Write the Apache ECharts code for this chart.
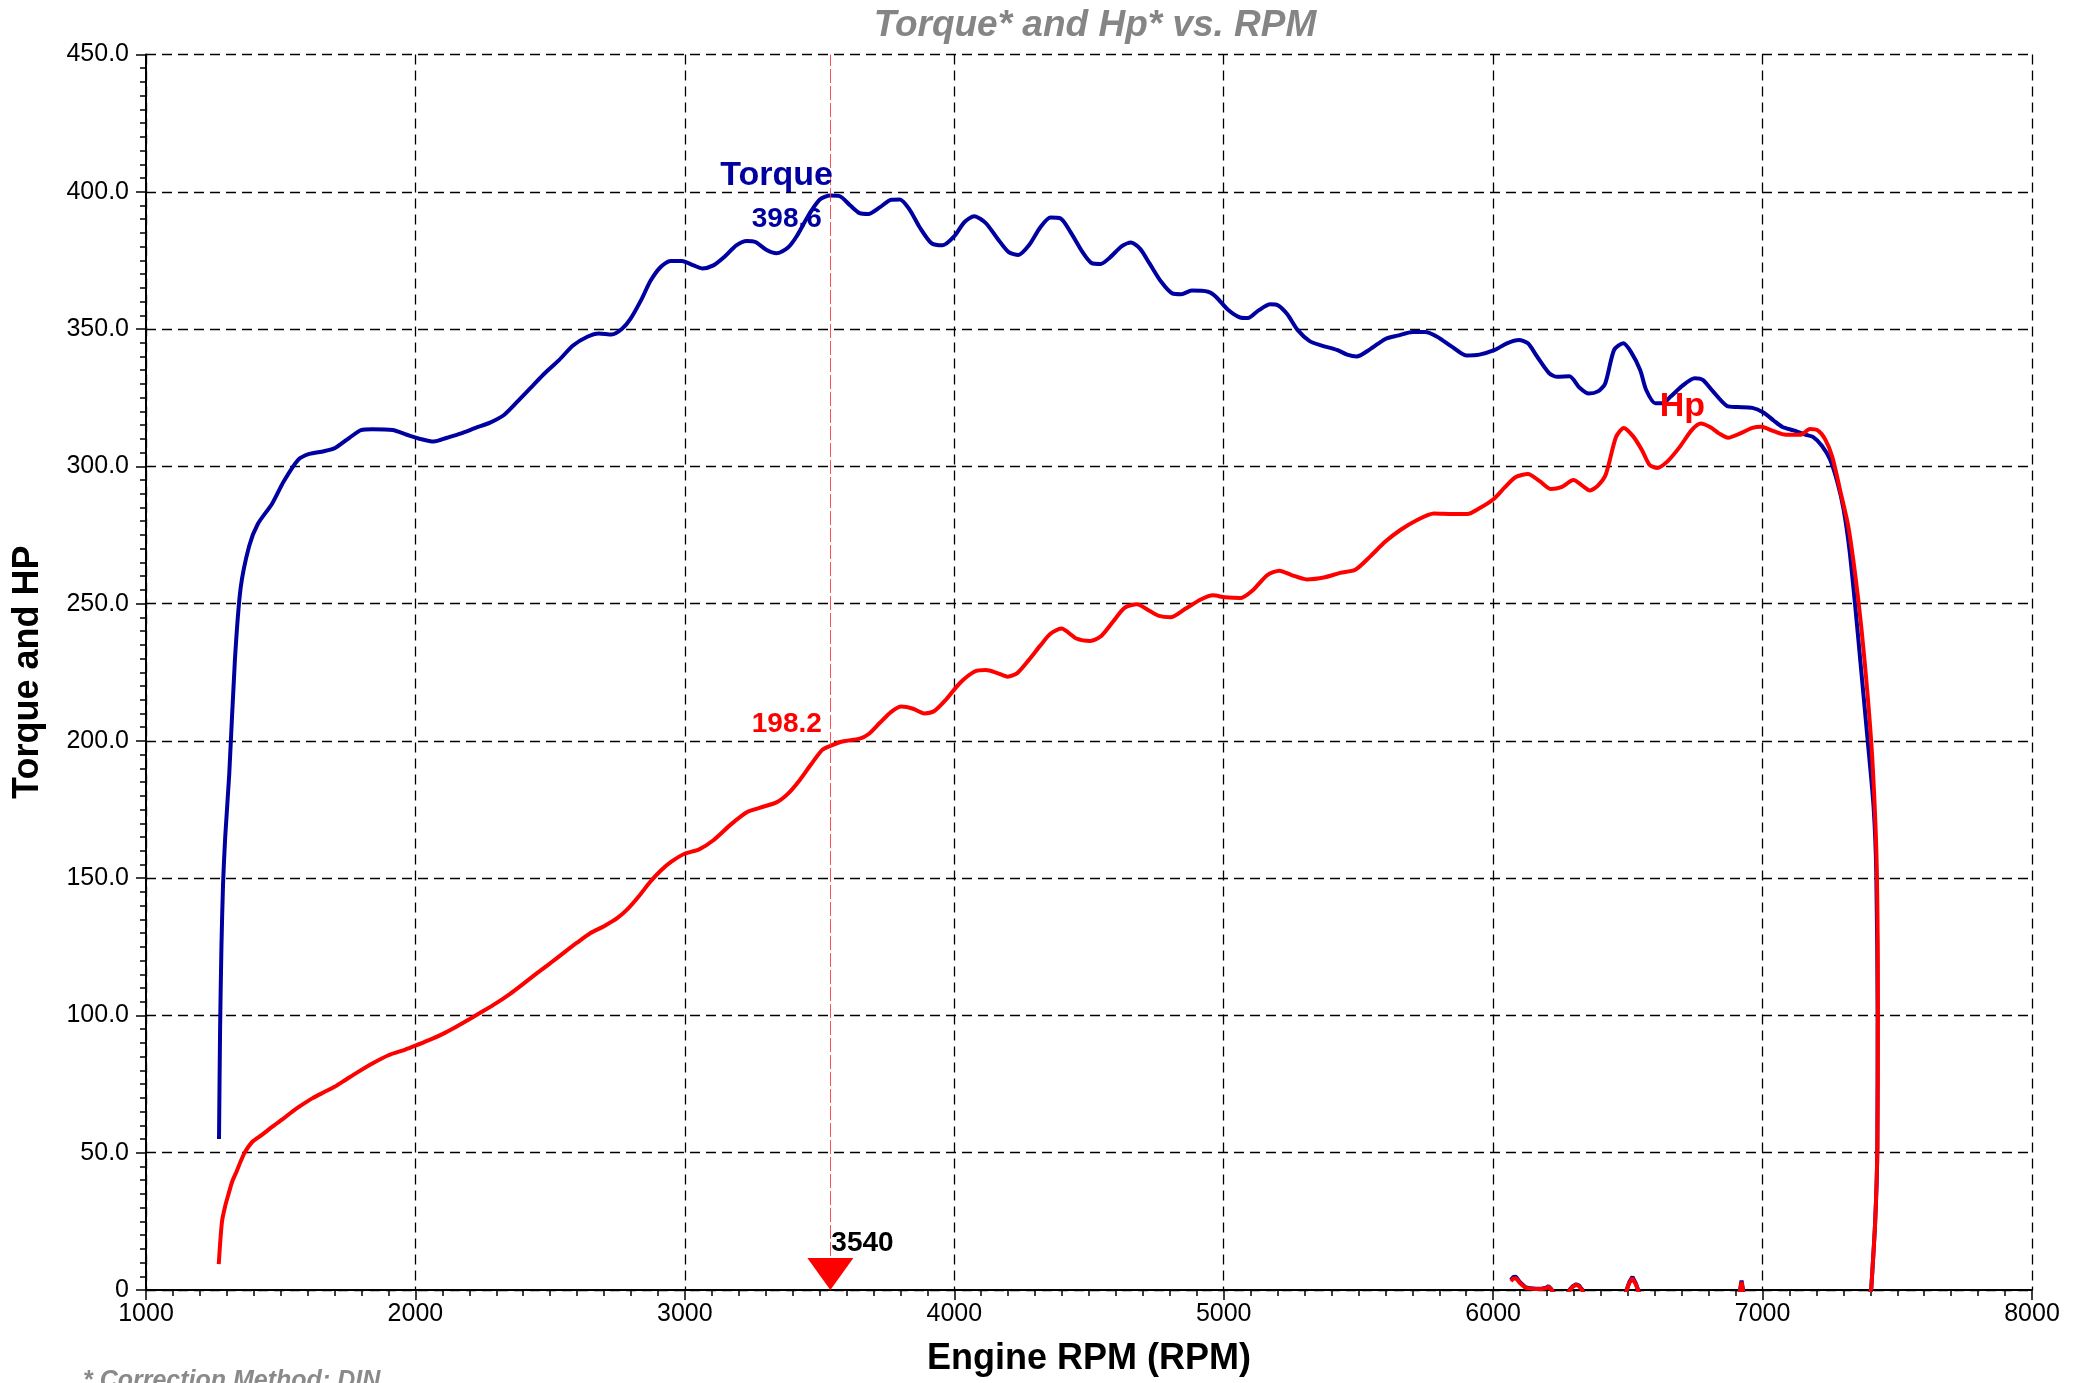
<!DOCTYPE html>
<html>
<head>
<meta charset="utf-8">
<script src="https://cdn.jsdelivr.net/npm/echarts@6/dist/echarts.min.js"></script>
<style>
html,body{margin:0;padding:0;background:#fff;}
#chart{width:2085px;height:1383px;}
</style>
</head>
<body>
<div id="chart"></div>
<script>
// ---- data ----
const torqueRpm = [1271,1275,1280,1286,1294,1309,1330,1351,1383,1415,1468,1511,1564,1606,1660,1702,1755,1798,1840,1915,1968,2021,2068,2117,2170,2223,2277,2330,2383,2436,2479,2532,2585,2638,2681,2728,2766,2798,2840,2872,2911,2947,2989,3032,3064,3106,3149,3191,3230,3262,3302,3340,3383,3415,3457,3500,3540,3574,3613,3649,3681,3723,3766,3798,3834,3872,3915,3957,4000,4038,4074,4117,4160,4202,4238,4277,4319,4357,4394,4431,4476,4510,4543,4577,4622,4656,4690,4724,4768,4809,4843,4881,4942,4971,5016,5061,5090,5128,5173,5202,5236,5274,5319,5364,5420,5458,5493,5544,5600,5645,5702,5747,5792,5848,5900,5949,6006,6051,6096,6129,6163,6209,6238,6283,6321,6355,6389,6416,6449,6483,6512,6546,6568,6602,6629,6658,6703,6748,6778,6816,6868,6906,6962,7003,7041,7074,7115,7160,7187,7220,7250,7277,7300,7322,7344,7367,7390,7412,7422,7427,7426,7418,7403];
const torqueVal = [55,95,125,148,165,188,229.5,255.5,271,279,286.4,294.5,302.3,304.5,305.5,306.7,310.4,313.2,313.5,313.2,311.5,309.9,309,310.4,312,314,315.9,318.8,324,329.4,333.8,338.6,344,347.2,348.4,348,350,353.7,361,367.5,372.7,374.8,374.8,373.2,372.1,373.2,376.5,380.5,382.1,381.7,378.9,377.6,379.7,383.8,391.1,397.1,398.6,398.4,395.1,392.2,391.9,394.3,397.1,397.2,393.5,387,381.3,380.5,383.8,389,391.1,388.6,383,378,377,380.5,387,390.6,390.3,385.4,378,374,373.7,376,380.2,381.5,379.2,374,367.2,363,362.7,364,363.6,361.8,357,354.2,354,356.7,359,358.6,355.4,349.7,345.6,344,342.4,340.7,340,342.7,346.4,347.6,348.9,348.9,347.2,343.5,340.4,340.7,342.4,344.8,346,344.8,340,333.8,332.6,332.8,328.6,326.5,327.3,330.2,342.4,344.8,341.6,335,327.8,323,323,325.3,329.4,332.1,331.5,327.3,322,321.6,321.3,319.6,316.7,314.3,313.1,311.5,310.7,307.5,302.6,294.5,284.7,270,249,224.7,200.3,176,152,100,52,25,0];

const hpRpm = [1270,1282,1295,1307,1320,1336,1350,1366,1395,1430,1469,1511,1543,1580,1617,1660,1700,1740,1780,1840,1900,1960,2000,2050,2100,2150,2200,2250,2300,2350,2400,2450,2500,2550,2600,2650,2700,2750,2790,2830,2870,2911,2950,2999,3053,3106,3170,3230,3277,3340,3383,3426,3468,3511,3540,3585,3649,3681,3723,3766,3804,3847,3889,3926,3968,4021,4074,4117,4160,4198,4234,4277,4319,4357,4397,4453,4505,4543,4588,4633,4678,4724,4760,4802,4859,4915,4960,5004,5061,5106,5162,5207,5252,5308,5376,5432,5488,5544,5600,5657,5713,5780,5848,5904,5949,6001,6044,6084,6129,6174,6215,6253,6298,6332,6359,6388,6418,6456,6485,6519,6553,6580,6609,6647,6692,6737,6771,6805,6838,6872,6917,6962,6996,7041,7086,7142,7176,7205,7232,7259,7288,7318,7344,7367,7390,7408,7423,7428,7426,7418,7403];
const hpVal = [9.4,24.9,31,35.2,39.5,43.1,46.5,50,54,56.5,59.5,62.5,65,67.5,69.8,72,74,76.5,79,82.5,85.5,87.5,89,91,93.2,95.8,98.6,101.5,104.5,107.8,111.5,115.3,119,122.8,126.5,130,132.5,135.5,139,143.5,148.5,152.8,156,158.9,160.5,163.8,169.5,174,175.6,177.6,180.8,185.7,191.4,196.8,198.2,199.8,200.8,202.4,206.5,210.6,212.5,211.7,210,210.9,214.9,221.1,225.2,225.8,224.7,223.4,224.7,229.5,234.7,239,240.9,237.3,236.4,238,243.3,248.5,249.8,247.4,245.5,245,248.2,251.5,253,252.3,252,254.7,260.4,262,260.4,258.8,259.6,261.2,262.3,267.2,272.6,276.9,280.2,282.8,282.6,282.6,284.7,288,292.4,296.1,297.2,294.5,291.7,292.4,295,292.9,291.2,292.9,297,310.7,314,311,305.8,300.6,299.4,301.8,307,313.2,315.6,314.3,312,310.4,312,314,314.4,312.8,311.5,311.5,313.6,313.1,309.9,303.4,291.2,278.2,260.4,240.9,216.6,192.2,157,105,52,25,0];

// run-down after the pull (mostly below zero, clipped by the plot)
const tailRpm = [7403,7380,7300,7150,6990,6940,6928,6922,6916,6905,6850,6700,6580,6545,6530,6517,6505,6496,6485,6450,6380,6345,6330,6318,6308,6296,6285,6272,6250,6228,6215,6205,6196,6180,6160,6140,6120,6100,6085,6075,6066];
const tailHp = [0,-6,-12,-14,-12,-6,-0.5,3,-0.5,-6,-12,-14,-9,-2,2,4.3,2.5,0,-4,-9,-8,-3,0,1.5,1.9,1.2,0,-2,-3,-1.5,0.3,1.2,0.6,0.4,0.4,0.5,0.8,2.5,4.3,4.2,3.2];
const tailTorque = [0,-6,-13,-15,-13,-6,-0.3,3.4,-0.3,-6,-13,-15,-10,-2,2.3,4.8,2.8,0.2,-4,-10,-9,-3,0.2,1.7,2.1,1.4,0.2,-2,-3,-1.5,0.4,1.4,0.8,0.5,0.5,0.6,1,2.8,4.8,4.7,3.6];

const xTicks = [1000,2000,3000,4000,5000,6000,7000,8000];
const yTicks = [0,50,100,150,200,250,300,350,400,450];

const markRpm = 3540;
const peakTorque = 398.6;
const hpAtMark = 198.2;

const titleText = 'Torque* and Hp* vs. RPM';
const footText = '* Correction Method: DIN';
const xName = 'Engine RPM (RPM)';
const yName = 'Torque and HP';

// ---- chart ----
const FONT = '"Liberation Sans", Arial, sans-serif';
const BLUE = '#0000a0';
const RED = '#ff0000';
const zip = (a, b) => a.map((v, i) => [v, b[i]]);

const chart = echarts.init(document.getElementById('chart'), null, {renderer: 'canvas'});

const axisCommon = {
  type: 'value',
  axisLine: {show: true, onZero: false, lineStyle: {color: '#000', width: 2}},
  axisTick: {show: true, inside: false, length: 10, lineStyle: {color: '#000', width: 1.5}},
  minorTick: {show: true, splitNumber: 10, length: 6, lineStyle: {color: '#000', width: 1.5}},
  splitLine: {show: true, lineStyle: {color: '#000', width: 1.3, type: [10, 6]}},
  nameLocation: 'middle',
  nameTextStyle: {fontSize: 36, fontWeight: 'bold', color: '#000', fontFamily: FONT}
};

const option = {
  animation: false,
  backgroundColor: '#fff',
  grid: {left: 146, right: 53, top: 54.5, bottom: 93},
  xAxis: Object.assign({}, axisCommon, {
    min: xTicks[0], max: xTicks[xTicks.length - 1], interval: xTicks[1] - xTicks[0],
    name: xName, nameGap: 51,
    axisLabel: {fontSize: 25, color: '#000', margin: 12, fontFamily: FONT, formatter: v => String(v)}
  }),
  yAxis: Object.assign({}, axisCommon, {
    min: yTicks[0], max: yTicks[yTicks.length - 1], interval: yTicks[1] - yTicks[0],
    name: yName, nameGap: 100,
    axisLabel: {fontSize: 25, color: '#000', margin: 17, fontFamily: FONT,
      formatter: v => v === 0 ? '0' : v.toFixed(1)}
  }),
  graphic: [
    {type: 'text', style: {text: titleText, x: 1095, y: 26, textAlign: 'center', textVerticalAlign: 'middle',
      font: 'italic bold 37px ' + FONT, fill: '#858585'}},
    {type: 'text', style: {text: footText, x: 83, y: 1381, textAlign: 'left', textVerticalAlign: 'middle',
      font: 'italic bold 25px ' + FONT, fill: '#8a8a8a'}}
  ],
  series: [
    {
      type: 'line', data: zip(torqueRpm, torqueVal), showSymbol: false, smooth: 0.25,
      lineStyle: {color: BLUE, width: 4}, itemStyle: {color: BLUE}, z: 3,
      markPoint: {
        symbol: 'rect', symbolSize: 1, itemStyle: {color: 'rgba(0,0,0,0)'}, silent: true,
        data: [
          {coord: [markRpm, peakTorque], value: 'Torque',
           label: {show: true, formatter: 'Torque', position: [3, -19], align: 'right', verticalAlign: 'middle',
             fontSize: 34, fontWeight: 'bold', color: BLUE, fontFamily: FONT}},
          {coord: [markRpm, peakTorque], value: peakTorque,
           label: {show: true, formatter: peakTorque.toFixed(1), position: [-8, 24], align: 'right', verticalAlign: 'middle',
             fontSize: 28, fontWeight: 'bold', color: BLUE, fontFamily: FONT}}
        ]
      }
    },
    {
      type: 'line', data: zip(tailRpm, tailTorque), showSymbol: false, smooth: false,
      lineStyle: {color: BLUE, width: 4}, z: 3
    },
    {
      type: 'line', data: zip(hpRpm, hpVal), showSymbol: false, smooth: 0.25,
      lineStyle: {color: RED, width: 4}, itemStyle: {color: RED}, z: 4,
      markLine: {
        silent: true, symbol: 'none', label: {show: false},
        lineStyle: {color: 'rgba(255,50,50,0.85)', width: 1, type: [14, 3]},
        data: [{xAxis: markRpm}]
      },
      markPoint: {
        silent: true,
        data: [
          {coord: [markRpm, 0], symbol: 'path://M0,0L46,0L23,32Z', symbolSize: [46, 32], symbolOffset: [0, -16],
           itemStyle: {color: RED},
           label: {show: true, formatter: String(markRpm), position: [24, -15], align: 'left', verticalAlign: 'middle',
             fontSize: 28, fontWeight: 'bold', color: '#000', fontFamily: FONT}},
          {coord: [markRpm, hpAtMark], symbol: 'rect', symbolSize: 1, itemStyle: {color: 'rgba(0,0,0,0)'},
           label: {show: true, formatter: hpAtMark.toFixed(1), position: [-8, -21], align: 'right', verticalAlign: 'middle',
             fontSize: 28, fontWeight: 'bold', color: RED, fontFamily: FONT}},
          {coord: [6620, 321.5], symbol: 'rect', symbolSize: 1, itemStyle: {color: 'rgba(0,0,0,0)'},
           label: {show: true, formatter: 'Hp', position: [0, 0], align: 'left', verticalAlign: 'middle',
             fontSize: 34, fontWeight: 'bold', color: RED, fontFamily: FONT}}
        ]
      }
    },
    {
      type: 'line', data: zip(tailRpm, tailHp), showSymbol: false, smooth: false,
      lineStyle: {color: RED, width: 4}, z: 4
    }
  ]
};
chart.setOption(option);
</script>
</body>
</html>
